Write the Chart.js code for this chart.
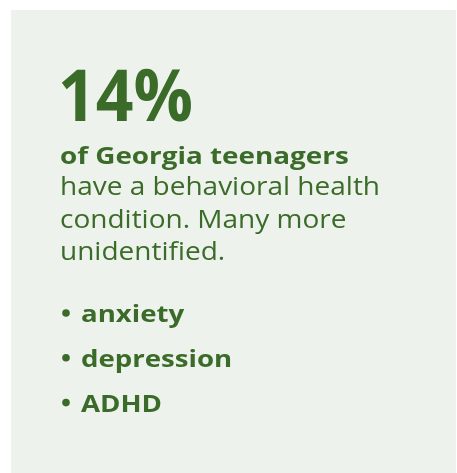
<!DOCTYPE html>
<html>
<head>
<meta charset="utf-8">
<script src="https://cdn.jsdelivr.net/npm/chart.js@4/dist/chart.umd.min.js"></script>
<style>
  html, body { margin: 0; padding: 0; background: #ffffff; }
  #wrap { position: relative; width: 457px; height: 473px; }
  canvas { display: block; }
</style>
</head>
<body>
<div id="wrap"><canvas id="c" width="457" height="473"></canvas></div>
<script>
// ---- content ----
const headline = '14%';
const subject = 'of Georgia teenagers';
const bodyLines = ['have a behavioral health', 'condition. Many more', 'unidentified.'];
const conditions = ['anxiety', 'depression', 'ADHD'];

const GREEN = '#3b6b29';
const PANEL = '#edf2ec';
const FONT = '"Open Sans", "DejaVu Sans", sans-serif';

function drawWide(ctx, text, x, y, sx) {
  ctx.save();
  ctx.translate(x, y);
  ctx.scale(sx, 1);
  ctx.fillText(text, 0, 0);
  ctx.restore();
}

const infoPlugin = {
  id: 'infographic',
  beforeDraw(chart) {
    const ctx = chart.ctx;
    ctx.save();
    ctx.fillStyle = '#ffffff';
    ctx.fillRect(0, 0, chart.width, chart.height);
    ctx.fillStyle = PANEL;
    ctx.fillRect(11, 10, 445, 463);
    ctx.restore();
  },
  afterDraw(chart) {
    const ctx = chart.ctx;
    ctx.save();
    ctx.fillStyle = GREEN;
    ctx.textBaseline = 'alphabetic';
    ctx.textAlign = 'left';
    const x0 = 60;
    ctx.font = '700 71px ' + FONT;
    drawWide(ctx, headline, x0 - 2, 121, 0.93);
    ctx.font = '700 24px ' + FONT;
    drawWide(ctx, subject, x0, 164, 1.16);
    ctx.font = '400 25px ' + FONT;
    bodyLines.forEach((t, i) => drawWide(ctx, t, x0, 195 + i * 32.7, 1.12));
    ctx.font = '700 24px ' + FONT;
    conditions.forEach((t, i) => {
      const y = 322 + i * 44.8;
      ctx.beginPath();
      ctx.arc(66, y - 9, 3.8, 0, Math.PI * 2);
      ctx.fill();
      drawWide(ctx, t, 81, y, 1.15);
    });
    ctx.restore();
  }
};

new Chart(document.getElementById('c'), {
  type: 'bar',
  data: { labels: conditions, datasets: [{ label: subject, data: [] }] },
  options: {
    responsive: false,
    animation: false,
    events: [],
    plugins: { legend: { display: false }, tooltip: { enabled: false }, title: { display: false } },
    scales: { x: { display: false }, y: { display: false } }
  },
  plugins: [infoPlugin]
});
</script>
</body>
</html>
